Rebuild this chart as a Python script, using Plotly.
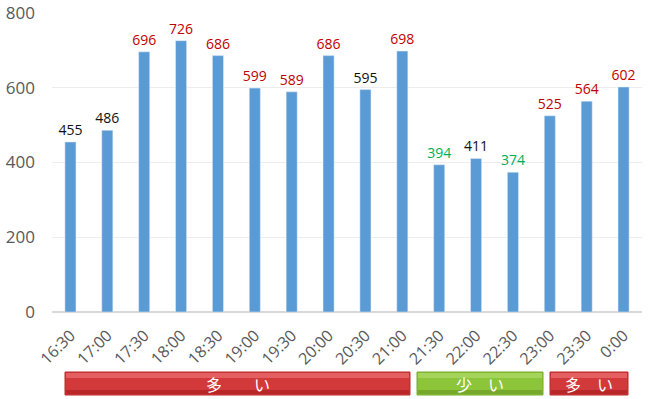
import plotly.graph_objects as go

times = ["16:30", "17:00", "17:30", "18:00", "18:30", "19:00", "19:30", "20:00",
         "20:30", "21:00", "21:30", "22:00", "22:30", "23:00", "23:30", "0:00"]
values = [455, 486, 696, 726, 686, 599, 589, 686, 595, 698, 394, 411, 374, 525, 564, 602]
label_colors = ["#111111", "#111111", "#C00000", "#C00000", "#C00000", "#C00000", "#C00000", "#C00000",
                "#111111", "#C00000", "#00B050", "#111111", "#00B050", "#C00000", "#C00000", "#C00000"]
y_ticks = [0, 200, 400, 600, 800]
bands = [("多　　い", "#D2393A", "#E46060", "#B82828"),
         ("少　い", "#8CC43A", "#A4D45A", "#76A82C"),
         ("多　い", "#D2393A", "#E46060", "#B82828")]

L, R, T, B = 52, 12, 13, 87
W, H = 654, 399
pw = W - L - R
ph = H - T - B

def px_x(p):
    return (p - L) / pw

def px_y(p):
    return (H - B - p) / ph

fig = go.Figure(go.Bar(
    x=times, y=values, width=0.3,
    marker=dict(color="#5B9BD5"),
    text=[str(v) for v in values], textposition="outside",
    textfont=dict(color=label_colors, size=14, family="Open Sans"),
    constraintext="none",
    cliponaxis=False,
))

band_px = [(65, 410), (417, 543), (550, 628)]
shapes = []
annotations = []
for (label, col, light, dark), (x0, x1) in zip(bands, band_px):
    shapes.append(dict(type="rect", xref="paper", yref="paper",
                       x0=px_x(x0), x1=px_x(x1), y0=px_y(395), y1=px_y(372),
                       fillcolor=col, line=dict(color=dark, width=1), layer="above"))
    shapes.append(dict(type="rect", xref="paper", yref="paper",
                       x0=px_x(x0 + 1), x1=px_x(x1 - 1), y0=px_y(378), y1=px_y(373),
                       fillcolor=light, line=dict(width=0), layer="above"))
    shapes.append(dict(type="rect", xref="paper", yref="paper",
                       x0=px_x(x0 + 1), x1=px_x(x1 - 1), y0=px_y(394), y1=px_y(390),
                       fillcolor=dark, line=dict(width=0), layer="above"))
    annotations.append(dict(xref="paper", yref="paper", x=px_x((x0 + x1) / 2), y=px_y(384),
                            xanchor="center", yanchor="middle",
                            text=label, showarrow=False,
                            font=dict(color="white", size=16, family="Noto Sans CJK JP")))

fig.update_layout(
    width=W, height=H, autosize=False, margin=dict(l=L, r=R, t=T, b=B, autoexpand=False),
    paper_bgcolor="white", plot_bgcolor="white",
    showlegend=False,
    bargap=0.7,
    xaxis=dict(tickangle=-45, tickfont=dict(size=16, color="#595959", family="Open Sans"),
               showgrid=False, showline=False, ticks="", automargin=False, ticklabelstandoff=10),
    yaxis=dict(range=[0, 800], tickvals=y_ticks, tickfont=dict(size=17, color="#595959", family="Open Sans"),
               gridcolor="#EDEDED", zeroline=True, zerolinecolor="#D9D9D9", showline=False, ticks="",
               automargin=False, ticklabelstandoff=16),
    shapes=shapes, annotations=annotations,
)

fig.write_html("out.html")
